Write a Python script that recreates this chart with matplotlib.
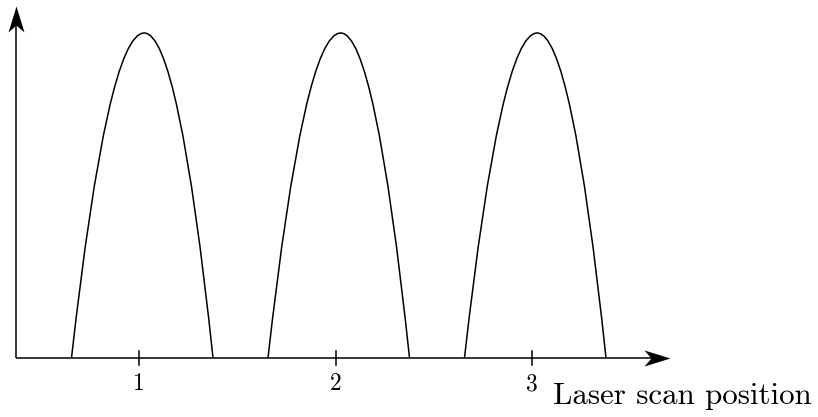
import matplotlib
matplotlib.use("Agg")
import matplotlib.pyplot as plt
from matplotlib.path import Path
from matplotlib.patches import PathPatch
from matplotlib.markers import MarkerStyle

# scan positions (tick marks) and the three signal humps
positions = [1, 2, 3]
tick_labels = ["1", "2", "3"]
hump_start = [0.655, 1.655, 2.655]
hump_peak = [1.025, 2.025, 3.025]
hump_end = [1.375, 2.375, 3.375]
hump_height = [1.0, 1.0, 1.0]

x_label = "Laser scan position"
x_origin, x_tip = 0.37, 3.70
y_tip = 1.083

# stealth-style arrow head, tip at origin, pointing along +x
head = Path([(0, 0), (-26, 8), (-19, 0), (-26, -8), (0, 0)],
            [Path.MOVETO, Path.LINETO, Path.LINETO, Path.LINETO, Path.CLOSEPOLY])


def arrow_head(ax, x, y, angle):
    m = MarkerStyle(head)
    m._transform = m.get_transform().rotate_deg(angle)
    ax.plot([x], [y], marker=m, markersize=26 * 2 * 72 / 100, color="black",
            markeredgewidth=0, linestyle="none", clip_on=False)


fig = plt.figure(figsize=(8.18, 4.17), dpi=100)
ax = fig.add_axes([0, 0, 1, 1])
ax.set_xlim(0.291, 4.454)
ax.set_ylim(-0.1826, 1.1016)
ax.axis("off")

lw = 1.1
# axes lines
ax.plot([x_origin, x_tip - 0.06], [0, 0], color="black", lw=lw, solid_capstyle="butt")
ax.plot([x_origin, x_origin], [0, y_tip - 0.05], color="black", lw=lw, solid_capstyle="butt")
arrow_head(ax, x_tip, 0, 0)
arrow_head(ax, x_origin, y_tip, 90)

# humps drawn as two parabola halves (quadratic bezier)
for s, p, e, h in zip(hump_start, hump_peak, hump_end, hump_height):
    verts = [(s, 0), ((s + p) / 2, h), (p, h), ((p + e) / 2, h), (e, 0)]
    codes = [Path.MOVETO, Path.CURVE3, Path.CURVE3, Path.CURVE3, Path.CURVE3]
    ax.add_patch(PathPatch(Path(verts, codes), facecolor="none",
                           edgecolor="black", lw=lw))

# ticks and labels
for pos, lab in zip(positions, tick_labels):
    ax.plot([pos, pos], [-0.022, 0.022], color="black", lw=lw)
    ax.text(pos, -0.0995, lab, ha="center", va="baseline",
            fontsize=17, family="cmr10")

ax.text(3.105, -0.1426, x_label, ha="left", va="baseline",
        fontsize=22.3, family="cmr10")

fig.savefig("out.png", dpi=100)
